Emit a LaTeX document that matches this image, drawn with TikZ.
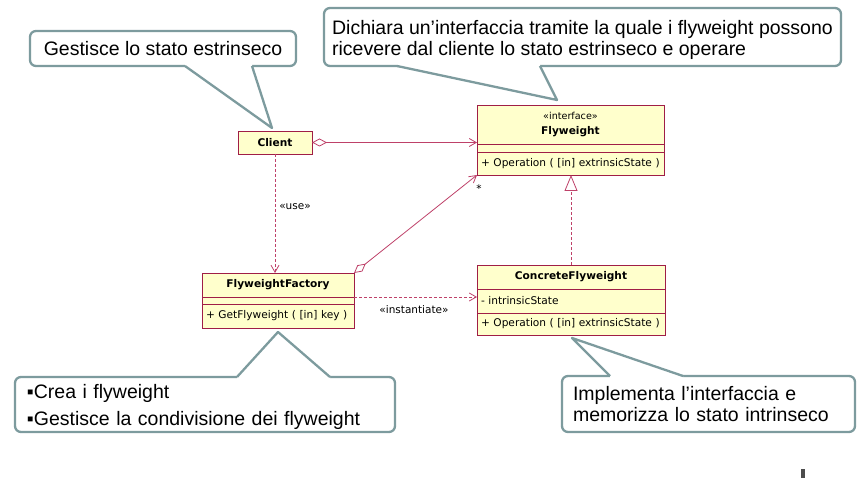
\documentclass[tikz,border=0pt]{standalone}
\usepackage{fontspec}
\setmainfont{Liberation Sans}
\newfontfamily\umlfont{DejaVu Sans}
\usetikzlibrary{positioning,arrows.meta,calc}
\definecolor{umlborder}{RGB}{160,30,70}
\definecolor{umlline}{RGB}{190,65,105}
\definecolor{umlfill}{RGB}{255,255,204}
\definecolor{noteline}{RGB}{125,155,158}
\begin{document}
\begin{tikzpicture}[x=1pt, y=-1pt,
    every node/.style={inner sep=0pt, outer sep=0pt},
    uml/.style={draw=umlborder, fill=umlfill, line width=0.9pt, anchor=north west,
                font=\umlfont\fontsize{10.6}{12.5}\selectfont},
    umlop/.style={uml, inner xsep=4pt, text width=#1, align=left},
    link/.style={draw=umlline, line width=0.8pt},
    dep/.style={link, dash pattern=on 3pt off 2pt},
    stereo/.style={font=\umlfont\fontsize{10.5}{12}\selectfont},
    notebox/.style={draw=noteline, fill=white, line width=2.3pt, rounded corners=6pt},
    notetip/.style={draw=noteline, line width=2.3pt, line join=round}
  ]
  \useasboundingbox (0,0) rectangle (865,478);

  % Klassen
  \node[uml, anchor=center, minimum width=74, minimum height=23] (client) at (275,142.5) {\textbf{Client}};

  \node[uml, minimum width=187, minimum height=39, align=center] (fw) at (477,105)
    {{\fontsize{9.6}{11}\selectfont «interface»}\\[3pt]\textbf{Flyweight}};
  \node[uml, minimum width=187, minimum height=8] (fwattr) at (fw.south west) {};
  \node[umlop=179, minimum height=23] (fwop) at (fwattr.south west) {\mbox{+ Operation ( [in] extrinsicState )}};

  \node[uml, minimum width=152, minimum height=24] (ff) at (202,273) {\textbf{FlyweightFactory}};
  \node[uml, minimum width=152, minimum height=7] (ffattr) at (ff.south west) {};
  \node[umlop=144, minimum height=24] (ffop) at (ffattr.south west) {\mbox{+ GetFlyweight ( [in] key )}};

  \node[uml, minimum width=188, minimum height=24] (cf) at (477,265) {\textbf{ConcreteFlyweight}};
  \node[umlop=180, minimum height=24] (cfattr) at (cf.south west) {\mbox{- intrinsicState}};
  \node[umlop=180, minimum height=22] (cfop) at (cfattr.south west) {\mbox{+ Operation ( [in] extrinsicState )}};

  % Beziehungen
  \draw[link, {Diamond[open, length=15pt, width=8pt]}-{Straight Barb[length=7pt, width=8pt]}]
    (client.east) -- (client.east -| fw.west);
  \draw[dep, -{Straight Barb[length=7pt, width=8pt]}] (client.south) -- (client.south |- ff.north);
  \node[stereo] (use) at (295,207) {«use»};
  \draw[link, {Diamond[open, length=15pt, width=8pt]}-{Straight Barb[length=7pt, width=8pt]}]
    (ff.north east) -- (fwop.south west);
  \node[stereo] (many) at (479,189) {*};
  \draw[dep, -{Straight Barb[length=7pt, width=8pt]}] (ff.south east) -- (ff.south east -| cf.west);
  \node[stereo] (inst) at (414,310) {«instantiate»};
  \draw[dep, -{Triangle[open, length=16pt, width=13pt, fill=white]}] (cf.north) -- (cf.north |- fwop.south);

  % Notiz: Client
  \node[notebox, minimum width=266, minimum height=35, font=\fontsize{19.5}{21}\selectfont] (gest) at (163,48.5)
    {Gestisce lo stato estrinseco};
  \coordinate (g1) at ($(gest.south west)+(155,0)$);
  \coordinate (g2) at ($(gest.south west)+(222,0)$);
  \coordinate (gt) at ($(client.north)+(-3,-3)$);
  \fill[white] ($(g1)+(0,-3)$) -- (g1) -- (gt) -- (g2) -- ($(g2)+(0,-3)$) -- cycle;
  \draw[notetip] (g1) -- (gt) -- (g2);

  % Notiz: Flyweight
  \node[notebox, minimum width=517, minimum height=58, align=left, font=\fontsize{19.5}{21}\selectfont] (decl) at (582.5,37)
    {\rule{0pt}{20.5pt}Dichiara un’interfaccia tramite la quale i flyweight possono\\ricevere dal cliente lo stato estrinseco e operare};
  \coordinate (d1) at ($(decl.south west)+(73,0)$);
  \coordinate (d2) at ($(decl.south west)+(216,0)$);
  \coordinate (dt) at ($(fw.north)+(-13.5,-5)$);
  \fill[white] ($(d1)+(0,-3)$) -- (d1) -- (dt) -- (d2) -- ($(d2)+(0,-3)$) -- cycle;
  \draw[notetip] (d1) -- (dt) -- (d2);

  % Notiz: FlyweightFactory
  \node[notebox, minimum width=380, minimum height=55, text width=356, align=left, font=\fontsize{19.5}{27}\selectfont] (crea) at (205,404.5)
    {\rule{0pt}{18.5pt}▪Crea i flyweight\\▪Gestisce la condivisione dei flyweight};
  \coordinate (c1) at ($(crea.north west)+(222,0)$);
  \coordinate (c2) at ($(crea.north west)+(315,0)$);
  \coordinate (ct) at ($(ffop.south)+(0,4)$);
  \fill[white] ($(c1)+(0,3)$) -- (c1) -- (ct) -- (c2) -- ($(c2)+(0,3)$) -- cycle;
  \draw[notetip] (c1) -- (ct) -- (c2);

  % Notiz: ConcreteFlyweight
  \node[notebox, minimum width=293, minimum height=56, text width=271, align=left, font=\fontsize{19.5}{20.5}\selectfont] (impl) at (708.5,404)
    {Implementa l’interfaccia e\\memorizza lo stato intrinseco};
  \coordinate (i1) at ($(impl.north west)+(48,0)$);
  \coordinate (i2) at ($(impl.north west)+(121,0)$);
  \coordinate (it) at ($(cfop.south)+(1,3)$);
  \fill[white] ($(i1)+(0,3)$) -- (i1) -- (it) -- (i2) -- ($(i2)+(0,3)$) -- cycle;
  \draw[notetip] (i1) -- (it) -- (i2);

  \fill[gray!60!black] (801,469) rectangle (805,478);
\end{tikzpicture}
\end{document}
